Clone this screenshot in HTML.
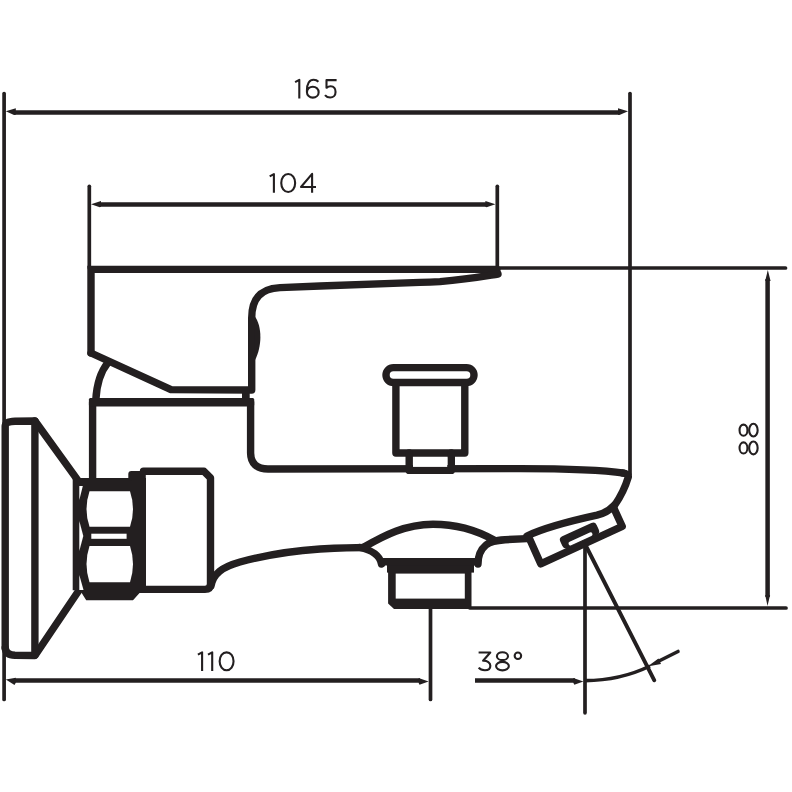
<!DOCTYPE html>
<html><head><meta charset="utf-8"><title>Drawing</title>
<style>
html,body{margin:0;padding:0;background:#fff;width:792px;height:792px;overflow:hidden}
svg{display:block}
text{font-family:"Liberation Sans",sans-serif;fill:#231f20}
</style></head><body>
<svg width="792" height="792" viewBox="0 0 792 792">
<rect width="792" height="792" fill="#fff"/>
<!-- thin extension lines -->
<g stroke="#231f20" stroke-width="3.7" stroke-linecap="round" fill="none">
  <line x1="4.1" y1="93.5" x2="4.1" y2="699.5"/>
  <line x1="630" y1="93.5" x2="630" y2="474"/>
  <line x1="89.3" y1="186.3" x2="89.3" y2="268"/>
  <line x1="497.3" y1="186.3" x2="497.3" y2="268"/>
  <line x1="499" y1="268" x2="785.5" y2="268"/>
  <line x1="470" y1="608" x2="786" y2="608"/>
  <line x1="430.5" y1="606" x2="430.5" y2="699.5"/>
  <line x1="585" y1="545" x2="585" y2="712.8"/>
  <line x1="586" y1="546" x2="654.3" y2="680.3" stroke-width="3.9"/>
  <path d="M585 680.6 C606 680.5 630 675.8 650 666" stroke-width="3.6" stroke-linecap="butt"/>
  <line x1="658" y1="661.5" x2="678" y2="651.5" stroke-width="3.6"/>
</g>
<!-- main dimension lines -->
<g stroke="#231f20" stroke-width="4.5" fill="none" stroke-linecap="butt">
  <line x1="14" y1="112.4" x2="619" y2="112.4"/>
  <line x1="99" y1="204.4" x2="487" y2="204.4"/>
  <line x1="14" y1="680.5" x2="420" y2="680.5"/>
  <line x1="475" y1="680.5" x2="575" y2="680.5"/>
  <line x1="767.6" y1="279" x2="767.6" y2="597"/>
</g>
<!-- arrowheads -->
<g fill="#231f20">
  <polygon points="5.8,111.2 15.8,108.2 15.8,114.7 14,114.9"/>
  <polygon points="628,111.2 618,108.2 618,114.7 619.5,114.9"/>
  <polygon points="91,204.2 101,201 101,206.7 99.8,207.3"/>
  <polygon points="495.4,204.2 485.4,201 485.4,206.7 486.6,207.3"/>
  <polygon points="5.8,679.5 15.8,677.8 15.8,682.8 14.5,685"/>
  <polygon points="428.6,681.6 418.6,678 418.6,682.8 419.5,684.8"/>
  <polygon points="583.4,681.6 573.3,678 573.3,682.8 574.3,684.8"/>
  <polygon points="767.8,270 765.2,281 770.6,281"/>
  <polygon points="767.5,606 765.2,595 770.1,595"/>
  <polygon points="647.5,666.5 658.5,658.5 661,664"/>
</g>
<!-- texts (stroked glyphs) -->
<defs>
  <path id="d1" d="M0.9 3.4 L5.1 1.05 L5.1 19.8"/>
  <path id="d0" d="M8 1.05 C3.9 1.05 1.05 5 1.05 10 C1.05 15 3.9 18.95 8 18.95 C12.1 18.95 14.95 15 14.95 10 C14.95 5 12.1 1.05 8 1.05 Z"/>
  <path id="d4" d="M12 19.8 L12 0.9 L0.9 14 L15.9 14"/>
  <path id="d6" d="M12.5 3 C11.3 1.7 9.6 1.05 7.7 1.05 C3.5 1.05 1.05 5 1.05 11.5 L1.05 13.4 M6.9 8 C10.2 8 12.75 10.4 12.75 13.5 C12.75 16.6 10.2 18.95 6.9 18.95 C3.6 18.95 1.05 16.6 1.05 13.5 C1.05 10.4 3.6 8 6.9 8 Z"/>
  <path id="d5" d="M12.5 1.05 L2.4 1.05 L2.4 8.7 C3.8 7.6 5.3 7.2 6.6 7.2 C9.8 7.2 11.45 9.8 11.45 12.9 C11.45 16.4 9.1 18.45 6.1 18.45 C3.7 18.45 1.9 17.4 0.9 16.1"/>
  <path id="d3" d="M0.7 1.05 L12.4 1.05 L5.2 9.3 C9.5 9.1 12.45 11.2 12.45 14.2 C12.45 17.2 10.1 18.75 7 18.75 C4.2 18.75 2 17.8 0.8 16.2"/>
  <g id="d8"><ellipse cx="7.45" cy="5" rx="5.55" ry="3.95"/><ellipse cx="7.45" cy="14.9" rx="6.4" ry="4.25"/></g>
</defs>
<g fill="none" stroke="#231f20" stroke-width="2.1" stroke-linejoin="round">
  <use href="#d1" x="294.2" y="78.8"/>
  <use href="#d6" x="305.9" y="78.7"/>
  <use href="#d5" x="324.1" y="79.1"/>
  <use href="#d1" x="268.8" y="173"/>
  <use href="#d0" x="280.2" y="173"/>
  <use href="#d4" x="300.1" y="173"/>
  <use href="#d1" x="197" y="651.3"/>
  <use href="#d1" x="207.1" y="651.3"/>
  <use href="#d0" x="218.6" y="651.3"/>
  <use href="#d3" x="477.9" y="651.5"/>
  <use href="#d8" x="495" y="651.2"/>
  <circle cx="517.9" cy="655.7" r="3.25"/>
  <g transform="translate(738.5 455.4) rotate(-90)">
    <use href="#d8" x="0" y="0"/>
    <use href="#d8" x="17.8" y="0"/>
  </g>
</g>

<!-- faucet body -->
<g stroke="#231f20" stroke-width="7.4" fill="none" stroke-linejoin="round" stroke-linecap="round">
  <!-- lever -->
  <path d="M91 353 L91 269.4 L497 269.4" stroke-linejoin="miter"/>
  <path d="M498 274 C488 275.5 470 279 440 281.6 C430 282.2 425 282.3 420 282.4 L320 286 C300 286.7 288 287.2 280 287.6 C261 288.5 251.7 298 251.7 318 L251.7 390 L171 389.6 L91 353"/>
  <!-- arc under lever -->
  <path d="M95.8 400 C96.5 387 99.5 373 108 362.5" stroke-linecap="butt"/>
  <!-- body -->
  <path d="M92.6 480 L92.6 402.3 L250.6 402.3 L250.6 453 C250.6 463.5 257 469 268 469 L520 468.6 C560 468.6 600 469.5 624 473.2"/>
  <path d="M623 473.1 Q628.8 474 628.3 477 Q623.9 491.9 614.5 505.5"/>
  <!-- spout underside -->
  <path d="M527 536 C545 527.5 575 520 597 515.2 C605 513.2 610 510 614 505.5"/>
  <path d="M478 564 C478 556 480 550 486 545 C490 541.5 495 540.5 505 539.7 L527 538.6"/>
  <!-- dome -->
  <path d="M364 547 C385 535 405 524.5 433 524.2 C460 524.2 478 531 494 540"/>
  <path d="M360 547.5 C372 550 380 556 381.5 564"/>
  <path d="M211 586 C213 574 222 567 240 562 C262 556 290 551 320 549 C340 548 355 547.5 366 547.5"/>
  <!-- aerator -->
  <path d="M529.4 538.6 L540.7 563.8 L622.2 526.4 L614.3 509.1"/>
  <!-- diverter -->
  <rect x="386" y="367.6" width="88" height="14.9" rx="7.45"/>
  <path d="M395.9 383 L395.9 453 L464.8 453 L464.8 383"/>
  <path d="M409.2 453 L409.2 470.4 L451.3 470.4 L451.3 453"/>
  <!-- flange -->
  <path d="M5.2 648 L5.2 426 Q5.5 421.5 15 421.2 L35 421 L77.9 480.3"/>
  <path d="M5.2 648 Q6 655 15 655.3 L35 655.5 L78.5 591"/>
  <line x1="34.9" y1="421" x2="34.9" y2="655"/>
  <!-- connector -->
  <path d="M143.5 471.3 L204 471.3 L210.5 477.8 L210.5 584 Q210.5 589.4 205 589.4 L138 589.4"/>
</g>
<!-- filled parts -->
<g fill="#231f20">
  <!-- lever bulge -->
  <path d="M254.5 316 C262.5 326 262 347 255 360 Z"/>
  <rect x="88.9" y="398.1" width="165.3" height="8.5" rx="1.5"/>
  <!-- neck -->
  <rect x="242" y="389" width="7.7" height="11"/>
  <!-- thick bar under dome -->
  <rect x="387" y="558" width="87" height="14.6"/>
  <rect x="380" y="558" width="100" height="7.5" rx="2"/>
  <!-- outlet -->
  <polygon points="388.1,572 471.5,572 471.5,609 394,609 388.1,603.5"/>
  <!-- nut -->
  <polygon points="72.7,478 146,478 146,592.6 140,592.6 133,600.3 86.2,600.3 80,590.2 72.7,590.2"/>
  <rect x="128.3" y="471.1" width="17.5" height="10" rx="3"/>
  <!-- aerator slot -->
  <g transform="translate(579.5 535.5) rotate(-24.6)">
    <rect x="-20" y="-6.5" width="40" height="13" rx="4"/>
  </g>
</g>
<!-- white cutouts -->
<g fill="#fff">
  <rect x="395.7" y="573.6" width="69.1" height="25"/>
  <rect x="413" y="457.6" width="34.2" height="9.3"/>
  <path d="M89.5 491.3 L130 491.3 Q136 509 130 526.7 L89.5 526.7 Q83.5 509 89.5 491.3 Z"/>
  <path d="M89.5 545.9 L130 545.9 Q136 564 130 582.2 L89.5 582.2 Q83.5 564 89.5 545.9 Z"/>
  <rect x="91.3" y="533.7" width="35.3" height="5.1"/>
  <polygon points="79.3,486 82.8,486 79.3,500"/>
  <polygon points="79.3,521 83.3,536 79.3,551"/>
  <polygon points="79.3,575 83.5,590 79.3,590"/>
  <g transform="translate(580.5 538.8) rotate(-24.6)">
    <rect x="-13" y="-1.9" width="26" height="3.8" rx="1.9"/>
  </g>
</g>
</svg>
</body></html>
